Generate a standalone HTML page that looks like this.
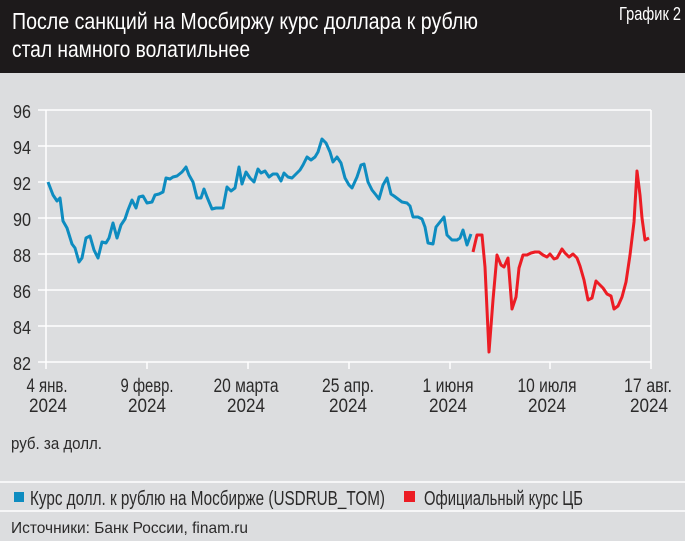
<!DOCTYPE html>
<html>
<head>
<meta charset="utf-8">
<style>
  html,body{margin:0;padding:0;background:#dcdddf;}
  svg{display:block;}
  text{font-family:"Liberation Sans","Noto Sans CJK SC",sans-serif;}
</style>
</head>
<body>
<svg width="685" height="541" viewBox="0 0 685 541" xmlns="http://www.w3.org/2000/svg">
  <rect x="0" y="0" width="685" height="541" fill="#dcdddf"/>
  <!-- header -->
  <rect x="0" y="0" width="685" height="73" fill="#1d1a1b"/>
  <text x="12" y="29" font-size="23" fill="#ffffff" textLength="466" lengthAdjust="spacingAndGlyphs">После санкций на Мосбиржу курс доллара к рублю</text>
  <text x="12" y="57" font-size="23" fill="#ffffff" textLength="238" lengthAdjust="spacingAndGlyphs">стал намного волатильнее</text>
  <text x="619" y="20" font-size="18" fill="#ffffff" textLength="62" lengthAdjust="spacingAndGlyphs">График 2</text>

  <!-- grid -->
  <g stroke="#ffffff" stroke-width="1.5" fill="none">
    <line x1="38" y1="110" x2="651" y2="110"/>
    <line x1="38" y1="146" x2="651" y2="146"/>
    <line x1="38" y1="182" x2="651" y2="182"/>
    <line x1="38" y1="218" x2="651" y2="218"/>
    <line x1="38" y1="254" x2="651" y2="254"/>
    <line x1="38" y1="290" x2="651" y2="290"/>
    <line x1="38" y1="326" x2="651" y2="326"/>
    <line x1="38" y1="362" x2="651" y2="362"/>
    <line x1="46" y1="110" x2="46" y2="369"/>
    <line x1="651" y1="110" x2="651" y2="369"/>
    <line x1="147" y1="362" x2="147" y2="369"/>
    <line x1="248" y1="362" x2="248" y2="369"/>
    <line x1="349" y1="362" x2="349" y2="369"/>
    <line x1="450" y1="362" x2="450" y2="369"/>
    <line x1="550" y1="362" x2="550" y2="369"/>
  </g>

  <!-- y labels -->
  <g font-size="18" fill="#2b2a2a" text-anchor="end">
    <text x="31" y="118" textLength="18" lengthAdjust="spacingAndGlyphs">96</text>
    <text x="31" y="154" textLength="18" lengthAdjust="spacingAndGlyphs">94</text>
    <text x="31" y="190" textLength="18" lengthAdjust="spacingAndGlyphs">92</text>
    <text x="31" y="226" textLength="18" lengthAdjust="spacingAndGlyphs">90</text>
    <text x="31" y="262" textLength="18" lengthAdjust="spacingAndGlyphs">88</text>
    <text x="31" y="298" textLength="18" lengthAdjust="spacingAndGlyphs">86</text>
    <text x="31" y="334" textLength="18" lengthAdjust="spacingAndGlyphs">84</text>
    <text x="31" y="370" textLength="18" lengthAdjust="spacingAndGlyphs">82</text>
  </g>

  <!-- x labels -->
  <g font-size="19" fill="#2b2a2a" text-anchor="middle">
    <text x="47" y="392" textLength="41" lengthAdjust="spacingAndGlyphs">4 янв.</text>
    <text x="48" y="412" textLength="38" lengthAdjust="spacingAndGlyphs">2024</text>
    <text x="147" y="392" textLength="53" lengthAdjust="spacingAndGlyphs">9 февр.</text>
    <text x="147" y="412" textLength="38" lengthAdjust="spacingAndGlyphs">2024</text>
    <text x="246" y="392" textLength="65" lengthAdjust="spacingAndGlyphs">20 марта</text>
    <text x="246" y="412" textLength="38" lengthAdjust="spacingAndGlyphs">2024</text>
    <text x="348" y="392" textLength="52" lengthAdjust="spacingAndGlyphs">25 апр.</text>
    <text x="348" y="412" textLength="38" lengthAdjust="spacingAndGlyphs">2024</text>
    <text x="448" y="392" textLength="51" lengthAdjust="spacingAndGlyphs">1 июня</text>
    <text x="448" y="412" textLength="38" lengthAdjust="spacingAndGlyphs">2024</text>
    <text x="547" y="392" textLength="59" lengthAdjust="spacingAndGlyphs">10 июля</text>
    <text x="547" y="412" textLength="38" lengthAdjust="spacingAndGlyphs">2024</text>
    <text x="648" y="392" textLength="48" lengthAdjust="spacingAndGlyphs">17 авг.</text>
    <text x="649" y="412" textLength="38" lengthAdjust="spacingAndGlyphs">2024</text>
  </g>

  <!-- series -->
  <polyline fill="none" stroke="#0e8cc0" stroke-width="3" stroke-linejoin="round" stroke-linecap="butt"
    points="48,182 53,195 57,201 60,198 63,221 67,228 72,244 75,248 79,262 82,258 86,238 90,236 94,250 98,258 102,242 106,243 109,238 113,223 117,238 121,225 125,219 128,210 132,200 136,208 139,197 143,196 147,203 152,202 155,195 159,194 163,192 166,178 170,179 173,177 177,176 182,172 186,167 189,175 193,182 197,198 201,198 204,189 207,197 212,209 216,208 223,208 227,187 231,191 235,188 239,167 242,184 246,172 250,178 254,182 258,169 261,173 265,171 269,177 273,174 277,174 281,181 284,173 288,177 292,178 296,174 300,170 303,165 307,157 311,160 315,157 318,152 322,139 326,143 330,152 333,162 337,157 341,163 345,178 349,185 352,188 357,177 361,165 364,164 368,182 372,190 376,195 379,199 383,185 387,178 391,194 394,196 398,199 402,202 407,203 410,206 413,217 418,217 422,219 425,227 428,243 433,244 436,227 440,222 444,217 447,235 452,240 457,240 460,238 463,230 467,245 471,234"/>
  <polyline fill="none" stroke="#ec1c24" stroke-width="3" stroke-linejoin="round" stroke-linecap="butt"
    points="473,252 477,235 482,235 485,267 489,352 493,300 497,255 501,265 504,267 508,258 512,309 516,297 519,268 523,255 527,255 531,253 535,252 539,252 543,255 547,257 550,254 554,259 557,258 562,249 565,253 569,257 573,254 577,258 580,266 584,280 588,300 592,298 596,281 600,285 603,288 607,294 611,296 614,309 618,306 622,297 626,282 630,255 634,222 637,171 640,195 642,218 645,240 649,238"/>

  <!-- unit -->
  <text x="11" y="449" font-size="17" fill="#2b2a2a" textLength="91" lengthAdjust="spacingAndGlyphs">руб. за долл.</text>

  <!-- separators -->
  <line x1="0" y1="482" x2="685" y2="482" stroke="#ffffff" stroke-width="1.5"/>
  <line x1="0" y1="511" x2="685" y2="511" stroke="#ffffff" stroke-width="1.5"/>

  <!-- legend -->
  <rect x="14" y="492" width="10" height="10" fill="#0e8cc0"/>
  <text x="30" y="505" font-size="20" fill="#2b2a2a" textLength="355" lengthAdjust="spacingAndGlyphs">Курс долл. к рублю на Мосбирже (USDRUB_TOM)</text>
  <rect x="404" y="491" width="11" height="11" fill="#ec1c24"/>
  <text x="424" y="505" font-size="20" fill="#2b2a2a" textLength="159" lengthAdjust="spacingAndGlyphs">Официальный курс ЦБ</text>

  <!-- source -->
  <text x="11" y="533" font-size="16" fill="#2b2a2a" textLength="237" lengthAdjust="spacingAndGlyphs">Источники: Банк России, finam.ru</text>
</svg>
</body>
</html>
